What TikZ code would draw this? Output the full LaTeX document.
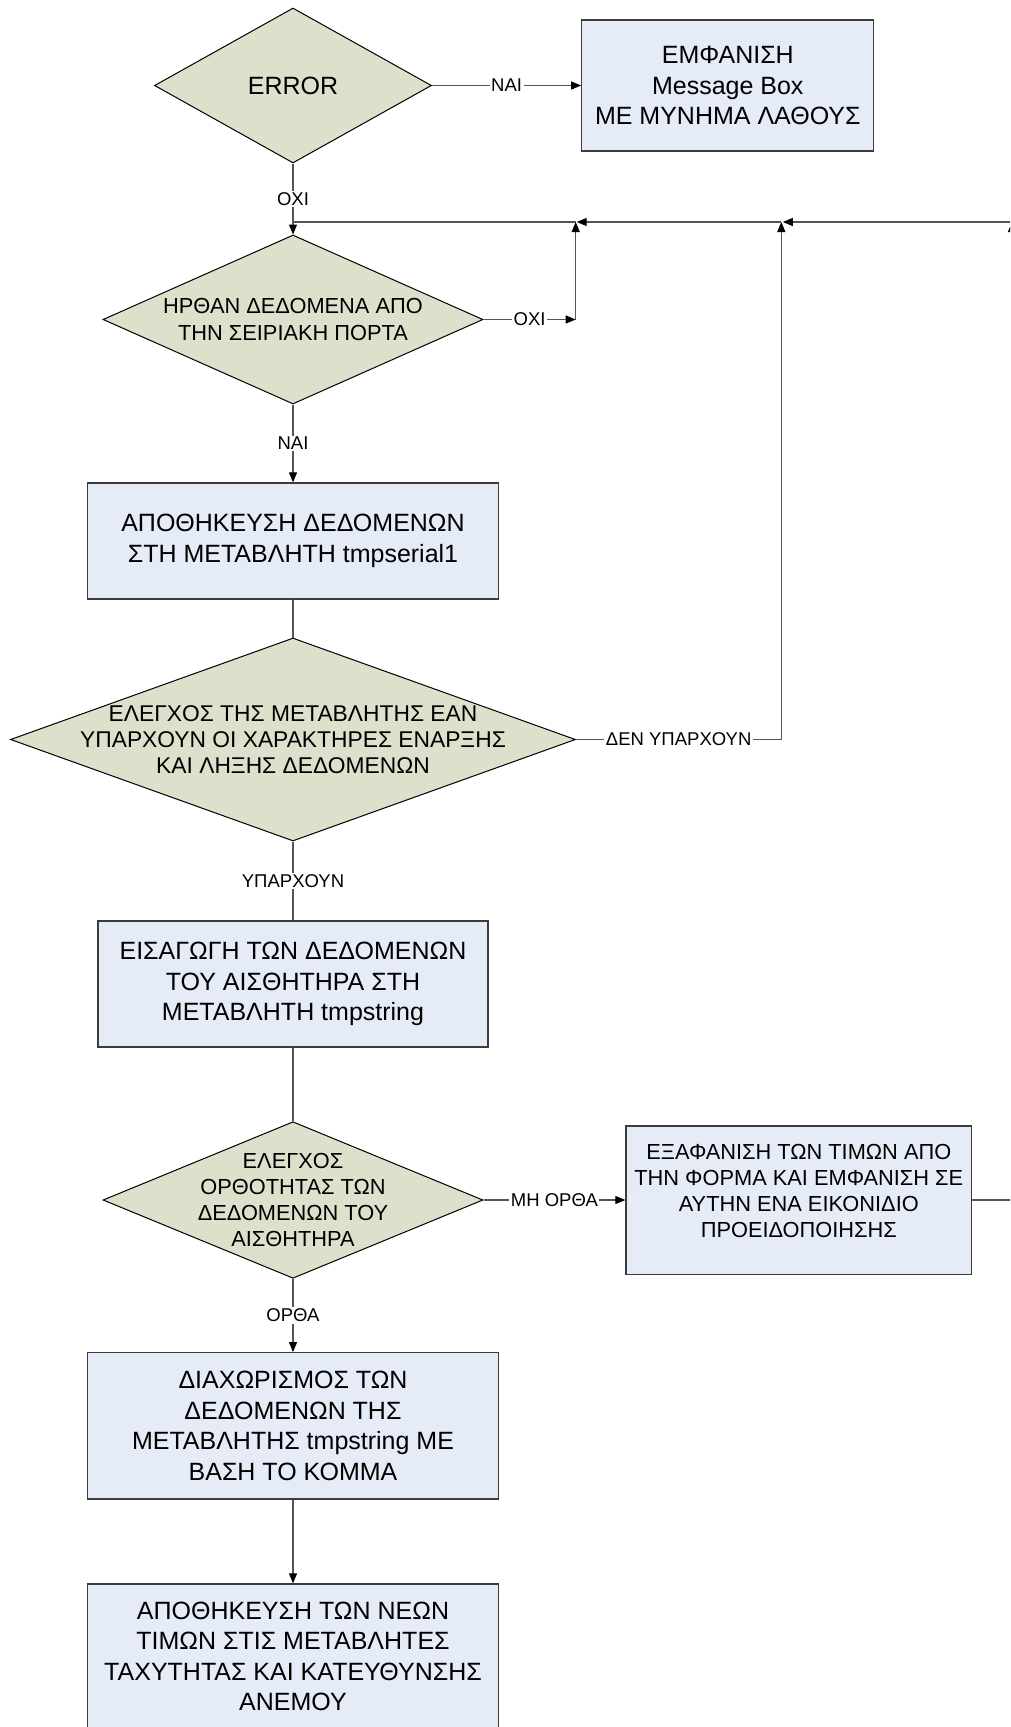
\documentclass[tikz,border=0pt]{standalone}
\usepackage{fontspec}
\setmainfont{Liberation Sans}
\usetikzlibrary{shapes.geometric,arrows.meta}

\definecolor{decfill}{RGB}{221,225,203}
\definecolor{procfill}{RGB}{230,236,247}
\definecolor{boxedge}{RGB}{60,60,60}
\definecolor{wire}{RGB}{85,85,85}

\newcommand\procfont{\fontsize{25}{30.5}\selectfont}
\newcommand\decfont{\fontsize{21.8}{26.2}\selectfont}
\newcommand\widedecfont{\fontsize{22.8}{26.2}\selectfont}
\newcommand\lblfont{\fontsize{18.5}{22}\selectfont}

\tikzset{
  decision/.style={diamond, draw=black, line width=1pt, fill=decfill, inner sep=0pt},
  dectext/.style={align=center, font=\decfont, inner sep=0pt},
  process/.style={rectangle, draw=boxedge, line width=1.3pt, fill=procfill,
    inner sep=0pt, align=center, font=\procfont},
  conn/.style={draw=wire, line width=1.1pt},
  tip/.style={-{Triangle[length=10pt,width=8pt,color=black]}},
  lbl/.style={fill=white, inner sep=1.5pt, font=\lblfont, text=black},
}

\begin{document}
\begin{tikzpicture}[x=1pt,y=-1pt]
\useasboundingbox (0,0) rectangle (1010,1727);
\clip (0,0) rectangle (1010,1727);

% ---- shapes ----
\node[decision, minimum width=277pt, minimum height=155pt] (err) at (293,85.5) {};
\node[dectext, font=\procfont] (err-t) at (err.center) {ERROR};

\node[process, minimum width=292pt, minimum height=131pt] (msg) at (727.8,85.5)
  {ΕΜΦΑΝΙΣΗ\\Message Box\\ΜΕ ΜΥΝΗΜΑ ΛΑΘΟΥΣ};

\node[decision, minimum width=380pt, minimum height=169pt] (serial) at (293,319.5) {};
\node[dectext] (serial-t) at (serial.center) {ΗΡΘΑΝ ΔΕΔΟΜΕΝΑ ΑΠΟ\\ΤΗΝ ΣΕΙΡΙΑΚΗ ΠΟΡΤΑ};

\node[process, minimum width=411pt, minimum height=116pt] (store) at (293,541)
  {ΑΠΟΘΗΚΕΥΣΗ ΔΕΔΟΜΕΝΩΝ\\ΣΤΗ ΜΕΤΑΒΛΗΤΗ tmpserial1};

\node[decision, minimum width=565pt, minimum height=203pt] (markers) at (293,739.5) {};
\node[dectext, font=\widedecfont] (markers-t) at (markers.center)
  {ΕΛΕΓΧΟΣ ΤΗΣ ΜΕΤΑΒΛΗΤΗΣ ΕΑΝ\\ΥΠΑΡΧΟΥΝ ΟΙ ΧΑΡΑΚΤΗΡΕΣ ΕΝΑΡΞΗΣ\\ΚΑΙ ΛΗΞΗΣ ΔΕΔΟΜΕΝΩΝ};

\node[process, minimum width=390pt, minimum height=126pt] (insert) at (293,984)
  {ΕΙΣΑΓΩΓΗ ΤΩΝ ΔΕΔΟΜΕΝΩΝ\\ΤΟΥ ΑΙΣΘΗΤΗΡΑ ΣΤΗ\\ΜΕΤΑΒΛΗΤΗ tmpstring};

\node[decision, minimum width=380pt, minimum height=156.6pt] (valid) at (293,1200) {};
\node[dectext] (valid-t) at (valid.center)
  {ΕΛΕΓΧΟΣ\\ΟΡΘΟΤΗΤΑΣ ΤΩΝ\\ΔΕΔΟΜΕΝΩΝ ΤΟΥ\\ΑΙΣΘΗΤΗΡΑ};

\node[process, minimum width=345.7pt, minimum height=148.3pt] (clear) at (798.8,1200) {};
\node[dectext] (clear-t) at (798.8,1191)
  {ΕΞΑΦΑΝΙΣΗ ΤΩΝ ΤΙΜΩΝ ΑΠΟ\\ΤΗΝ ΦΟΡΜΑ ΚΑΙ ΕΜΦΑΝΙΣΗ ΣΕ\\ΑΥΤΗΝ ΕΝΑ ΕΙΚΟΝΙΔΙΟ\\ΠΡΟΕΙΔΟΠΟΙΗΣΗΣ};

\node[process, minimum width=411pt, minimum height=146.3pt] (split) at (293,1425.9)
  {ΔΙΑΧΩΡΙΣΜΟΣ ΤΩΝ\\ΔΕΔΟΜΕΝΩΝ ΤΗΣ\\ΜΕΤΑΒΛΗΤΗΣ tmpstring ΜΕ\\ΒΑΣΗ ΤΟ ΚΟΜΜΑ};

\node[process, minimum width=411pt, minimum height=145pt] (save) at (293,1656.5)
  {ΑΠΟΘΗΚΕΥΣΗ ΤΩΝ ΝΕΩΝ\\ΤΙΜΩΝ ΣΤΙΣ ΜΕΤΑΒΛΗΤΕΣ\\ΤΑΧΥΤΗΤΑΣ ΚΑΙ ΚΑΤΕΥΘΥΝΣΗΣ\\ΑΝΕΜΟΥ};

% ---- return bus and bend points ----
\coordinate (bus0) at (293,222);
\coordinate (bus1) at (575.7,222);
\coordinate (bus2) at (781.3,222);
\coordinate (bus3) at (1012,222);
\coordinate (bend1) at (575.7,319.5);
\coordinate (bend2) at (781.3,739.5);
\coordinate (bend3) at (1012,1200);

% ---- connectors ----
\draw[conn,tip] (err.east) -- node[lbl] {ΝΑΙ} (msg.west);
\draw[conn,tip] (err.south) -- node[lbl, pos=0.5] {ΟΧΙ} (serial.north);

\draw[conn] (bus1) -- (bus0);
\draw[conn,tip,shorten >=1pt] (bus2) -- (bus1);
\draw[conn,tip,shorten >=1.5pt] (bus3) -- (bus2);

\draw[conn,tip] (serial.east) -- node[lbl] {ΟΧΙ} (bend1);
\draw[conn,tip] (bend1) -- (bus1);
\draw[conn,tip] (serial.south) -- node[lbl] {ΝΑΙ} (store.north);

\draw[conn] (store.south) -- (markers.north);
\draw[conn,tip] (markers.east) -- node[lbl] {ΔΕΝ ΥΠΑΡΧΟΥΝ} (bend2) -- (bus2);
\draw[conn] (markers.south) -- node[lbl] {ΥΠΑΡΧΟΥΝ} (insert.north);

\draw[conn] (insert.south) -- (valid.north);
\draw[conn,tip] (valid.east) -- node[lbl] {ΜΗ ΟΡΘΑ} (clear.west);
\draw[conn,tip] (clear.east) -- (bend3) -- (bus3);
\draw[conn,tip] (valid.south) -- node[lbl] {ΟΡΘΑ} (split.north);

\draw[conn,tip] (split.south) -- (save.north);
\end{tikzpicture}
\end{document}
